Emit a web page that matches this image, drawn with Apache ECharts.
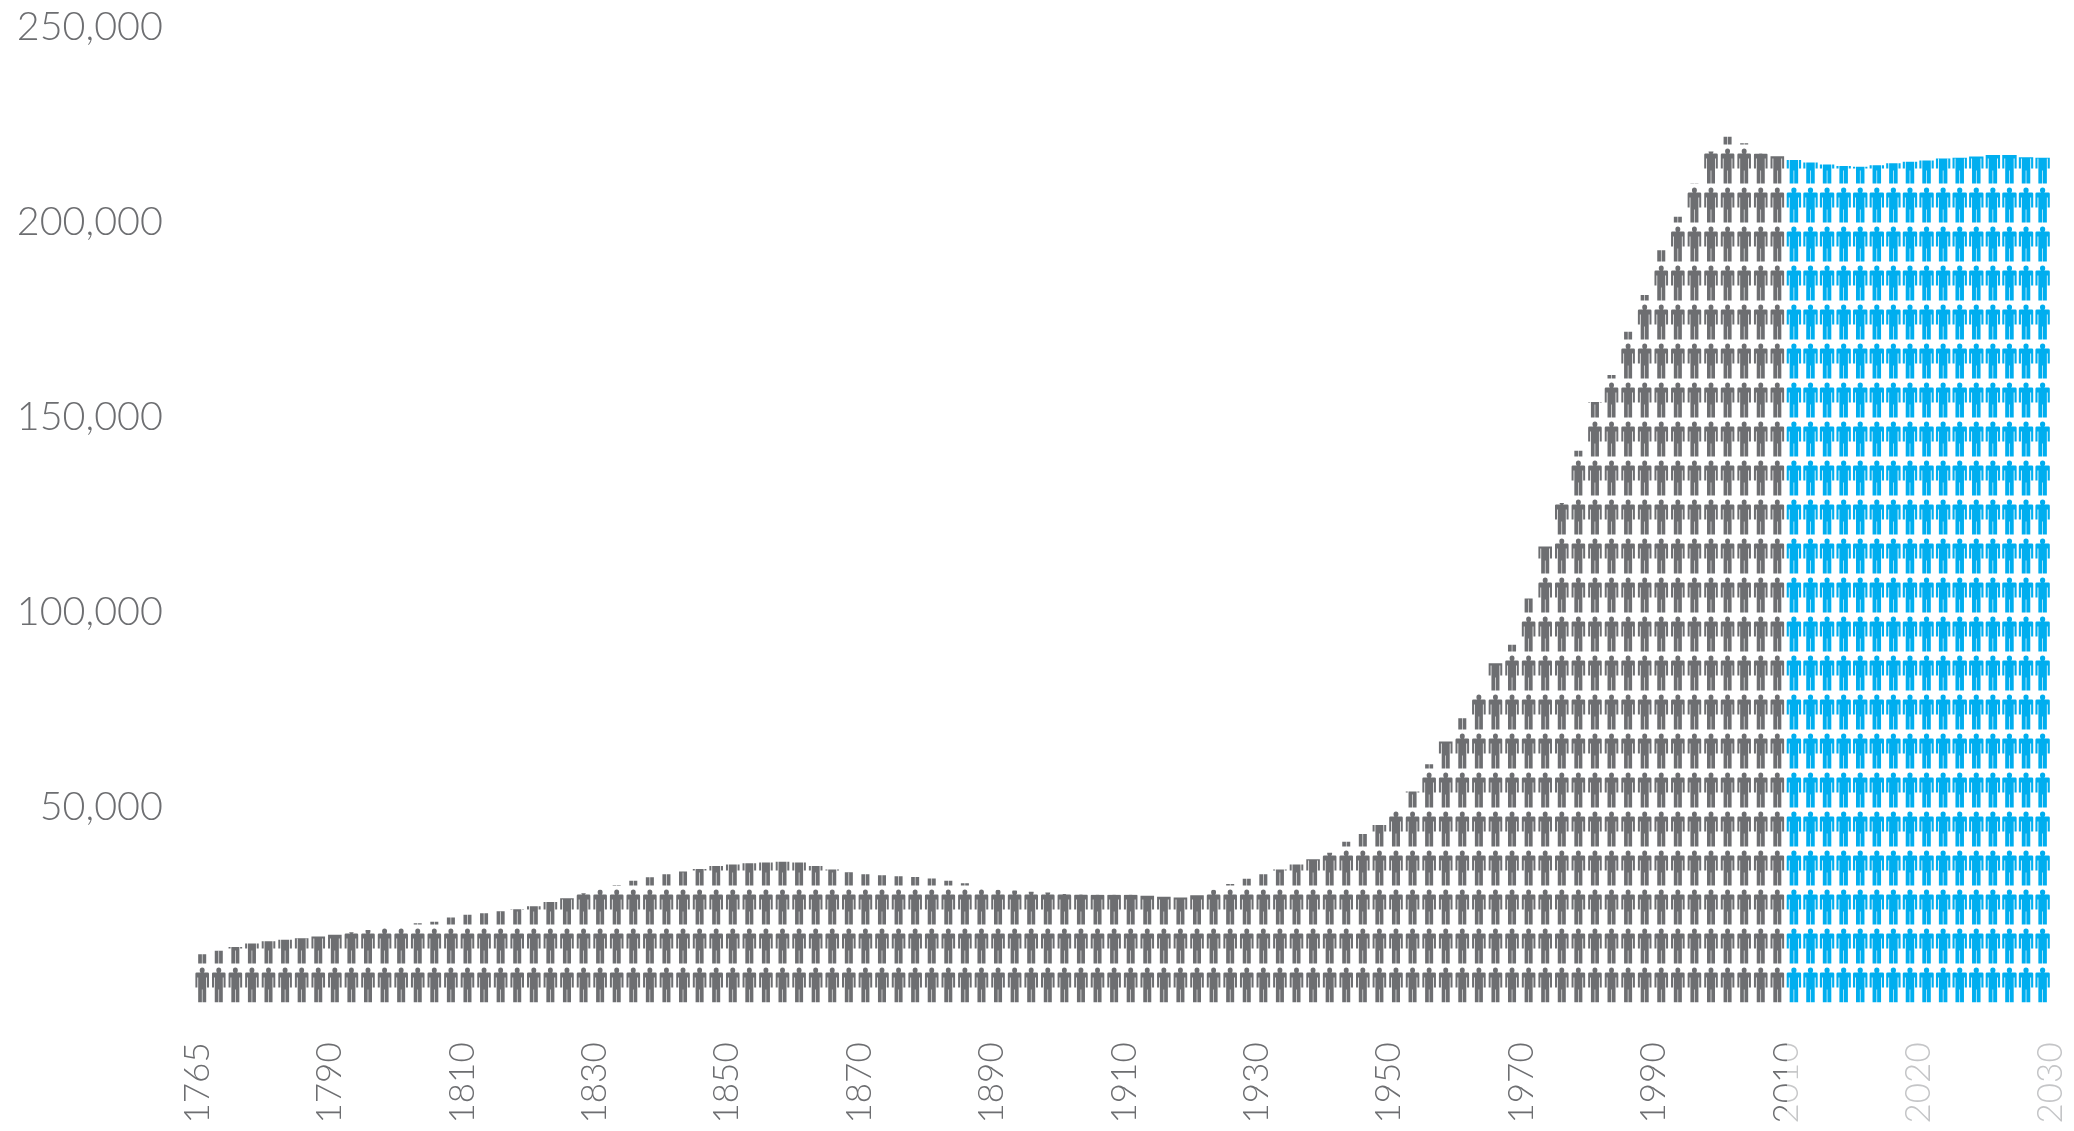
<!DOCTYPE html>
<html>
<head>
<meta charset="utf-8">
<title>Chart</title>
<style>html,body{margin:0;padding:0;background:#fff}#c{width:2074px;height:1131px}</style>
<script src="https://cdn.jsdelivr.net/npm/echarts@6/dist/echarts.min.js"></script>
</head>
<body>
<div id="c"></div>
<script>
// Values are read per column of figures, left to right.
const grayValues = [
  12400,13300,14200,15100,15700,16100,16500,16900,17400,18000,18600,19100,19600,20300,20700,21800,
  22500,22900,23400,23900,24700,25800,26700,28000,29000,30100,31200,32100,32900,33600,34200,35000,
  35400,35700,35900,36100,35900,35000,34100,33400,32900,32600,32400,32200,31800,31200,30600,29500,
  28900,28700,28400,28200,27800,27700,27650,27650,27600,27400,27100,26900,27500,28900,30400,31700,
  32900,34100,35400,36700,38400,41200,43200,45500,49800,54100,61100,66900,72900,79700,87000,91700,
  103600,116900,128100,141500,154000,160900,172000,181400,192900,201500,210000,218200,222000,220300,217700,217000
];
const blueValues = [
  216000,215400,214900,214500,214300,214700,215200,215600,215900,216400,216600,216900,217300,217300,216700,216600
];
const tickYears = ['1765','1790','1810','1830','1850','1870','1890','1910','1930','1950','1970','1990','2010','2020','2030'];
const yTicks = { min: 0, max: 250000, interval: 50000 };
const COLORS = { gray:'#6d6e71', blue:'#00aeef', label:'#6d6e71', faint:'#c4c5c7' };
const columnsPerTick = 8;
const figureBoundingValue = 248974; // 25 figures, each standing for 10,000

const person = 'path://M22 0A8 8 0 1 1 21.99 0ZM4 15H40Q44 15 44 19V60H37.5V30H35V105H23V66H21V105H9V30H6.5V60H0V19Q0 15 4 15Z';

const nCols = grayValues.length + blueValues.length;
const columnCats = Array.from({length:nCols},(_,i)=>String(i));
const tickCats = [];
tickYears.forEach((y,k)=>{
  tickCats.push(y);
  if(k<tickYears.length-1) for(let j=1;j<columnsPerTick;j++) tickCats.push('');
});
const grayData = grayValues.concat(blueValues.map(()=>null));
const blueData = grayValues.map(()=>null).concat(blueValues);

function pictorial(name,data,color,width){
  return {
    name, type:'pictorialBar', xAxisIndex:0, yAxisIndex:0, data,
    symbol:person, symbolSize:[width,35], symbolRepeat:true, symbolMargin:2,
    symbolClip:true, symbolBoundingData:figureBoundingValue, barGap:'-100%', barCategoryGap:'0%',
    itemStyle:{color}, silent:true, animation:false
  };
}

const chart = echarts.init(document.getElementById('c'),null,{renderer:'canvas'});
const fontFamily = 'Lato, "Open Sans", sans-serif';
chart.setOption({
  backgroundColor:'#ffffff',
  animation:false,
  grid:[
    {left:193.9,top:27.5,width:1857,height:975},
    {left:197.5,top:27.5,width:1853.6,height:975}
  ],
  xAxis:[
    {gridIndex:0,type:'category',data:columnCats,show:false,boundaryGap:true},
    {gridIndex:1,type:'category',data:tickCats,boundaryGap:false,
     axisLine:{show:false},axisTick:{show:false},
     axisLabel:{show:true,interval:columnsPerTick-1,rotate:90,align:'left',verticalAlign:'middle',margin:121,
       fontFamily,fontWeight:300,fontSize:35,
       color:(v)=>(v==='2020'||v==='2030')?COLORS.faint:COLORS.label}}
  ],
  yAxis:[
    {gridIndex:0,type:'value',min:yTicks.min,max:yTicks.max,interval:yTicks.interval,
     axisLine:{show:false},axisTick:{show:false},splitLine:{show:false},
     axisLabel:{margin:31,fontFamily,fontWeight:300,fontSize:39.5,color:COLORS.label,
       formatter:(v)=>v===0?'':v.toLocaleString('en-US')}},
    {gridIndex:1,type:'value',min:yTicks.min,max:yTicks.max,show:false}
  ],
  series:[pictorial('History',grayData,COLORS.gray,13.6),pictorial('Projection',blueData,COLORS.blue,14.4)],
  graphic:[{type:'rect',z:100,silent:true,shape:{x:1787,y:1035,width:22,height:96},style:{fill:'rgba(255,255,255,0.62)'}}]
});
</script>
</body>
</html>
